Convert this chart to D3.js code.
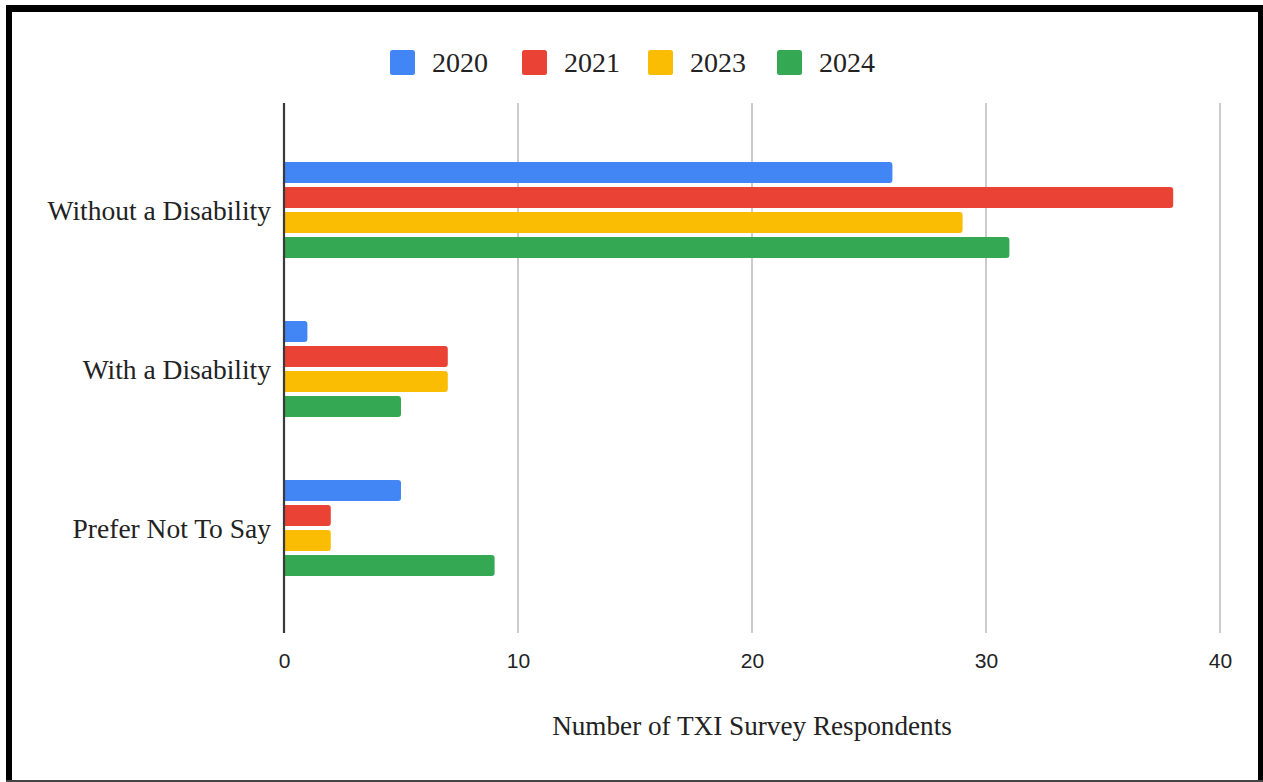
<!DOCTYPE html>
<html>
<head>
<meta charset="utf-8">
<script src="https://cdn.jsdelivr.net/npm/d3@7"></script>
<style>
  html, body { margin: 0; padding: 0; background: #fff; }
  svg { display: block; }
</style>
</head>
<body>
<svg id="chart" width="1263" height="782"></svg>
<script>
// Survey respondents by disability status, per survey year
const categories = ["Without a Disability", "With a Disability", "Prefer Not To Say"];
const years = ["2020", "2021", "2023", "2024"];
const values2020 = [26, 1, 5];
const values2021 = [38, 7, 2];
const values2023 = [29, 7, 2];
const values2024 = [31, 5, 9];
const xTicks = [0, 10, 20, 30, 40];
const xTitle = "Number of TXI Survey Respondents";

const seriesValues = { "2020": values2020, "2021": values2021, "2023": values2023, "2024": values2024 };
const colors = { "2020": "#4285F4", "2021": "#EA4335", "2023": "#FBBC04", "2024": "#34A853" };

const svg = d3.select("#chart");

const serif = "'Liberation Serif', 'Times New Roman', serif";
const sans = "'Liberation Sans', Arial, sans-serif";

// plot frame
const plotTop = 103, plotBottom = 633;
const x = d3.scaleLinear().domain([0, 40]).range([284, 1220]);
const y0 = d3.scaleBand().domain(categories).range([130.5, 607.5]);
const groupH = 96;
const y1 = d3.scaleBand().domain(years).range([0, groupH]).paddingInner(0.16);

// vertical gridlines
svg.append("g").selectAll("line")
  .data(xTicks.filter(d => d !== 0))
  .join("line")
  .attr("x1", d => x(d)).attr("x2", d => x(d))
  .attr("y1", plotTop).attr("y2", plotBottom)
  .attr("stroke", "#cccccc").attr("stroke-width", 2);

// bars (rounded right end)
function barPath(x0, x1, yTop, h, r) {
  const w = x1 - x0;
  r = Math.min(r, w / 2, h / 2);
  return `M${x0},${yTop}H${x1 - r}A${r},${r} 0 0 1 ${x1},${yTop + r}` +
         `V${yTop + h - r}A${r},${r} 0 0 1 ${x1 - r},${yTop + h}H${x0}Z`;
}

const rows = [];
categories.forEach((c, i) => {
  years.forEach(yr => rows.push({ cat: c, year: yr, value: seriesValues[yr][i] }));
});

svg.append("g").selectAll("path")
  .data(rows)
  .join("path")
  .attr("d", d => {
    const top = y0(d.cat) + (y0.bandwidth() - groupH) / 2 + y1(d.year);
    return barPath(x(0), x(d.value), top, y1.bandwidth(), 3);
  })
  .attr("fill", d => colors[d.year]);

// zero axis line
svg.append("line")
  .attr("x1", x(0)).attr("x2", x(0))
  .attr("y1", plotTop).attr("y2", plotBottom)
  .attr("stroke", "#3a3a3a").attr("stroke-width", 2.2);

// category labels
svg.append("g").selectAll("text")
  .data(categories)
  .join("text")
  .attr("x", 271)
  .attr("y", d => y0(d) + y0.bandwidth() / 2)
  .attr("dy", "0.35em")
  .attr("text-anchor", "end")
  .attr("font-family", serif)
  .attr("font-size", 27.5)
  .attr("fill", "#222")
  .text(d => d);

// x tick labels
const xAxis = d3.axisBottom(x).tickValues(xTicks).tickSize(0).tickPadding(0);
const gx = svg.append("g").attr("transform", `translate(0,${653})`).call(xAxis);
gx.select(".domain").remove();
gx.selectAll("text")
  .attr("font-family", sans)
  .attr("font-size", 21)
  .attr("fill", "#222")
  .attr("dy", "0.71em");

// x axis title
svg.append("text")
  .attr("x", (x(0) + x(40)) / 2)
  .attr("y", 735)
  .attr("text-anchor", "middle")
  .attr("font-family", serif)
  .attr("font-size", 27.2)
  .attr("fill", "#222")
  .text(xTitle);

// legend
const legendX = [390, 522, 648, 777];
const legend = svg.append("g").selectAll("g")
  .data(years)
  .join("g")
  .attr("transform", (d, i) => `translate(${legendX[i]},50)`);
legend.append("rect")
  .attr("width", 25).attr("height", 25).attr("rx", 2.5)
  .attr("fill", d => colors[d]);
legend.append("text")
  .attr("x", 42).attr("y", 21.5)
  .attr("font-family", serif)
  .attr("font-size", 28)
  .attr("fill", "#222")
  .text(d => d);

// outer frame
svg.append("rect").attr("x", 6).attr("y", 5).attr("width", 1257).attr("height", 7).attr("fill", "#000");
svg.append("rect").attr("x", 6).attr("y", 5).attr("width", 6).attr("height", 777).attr("fill", "#000");
svg.append("rect").attr("x", 1258).attr("y", 5).attr("width", 5).attr("height", 777).attr("fill", "#000");
svg.append("rect").attr("x", 6).attr("y", 780).attr("width", 1257).attr("height", 2).attr("fill", "#444");
</script>
</body>
</html>
